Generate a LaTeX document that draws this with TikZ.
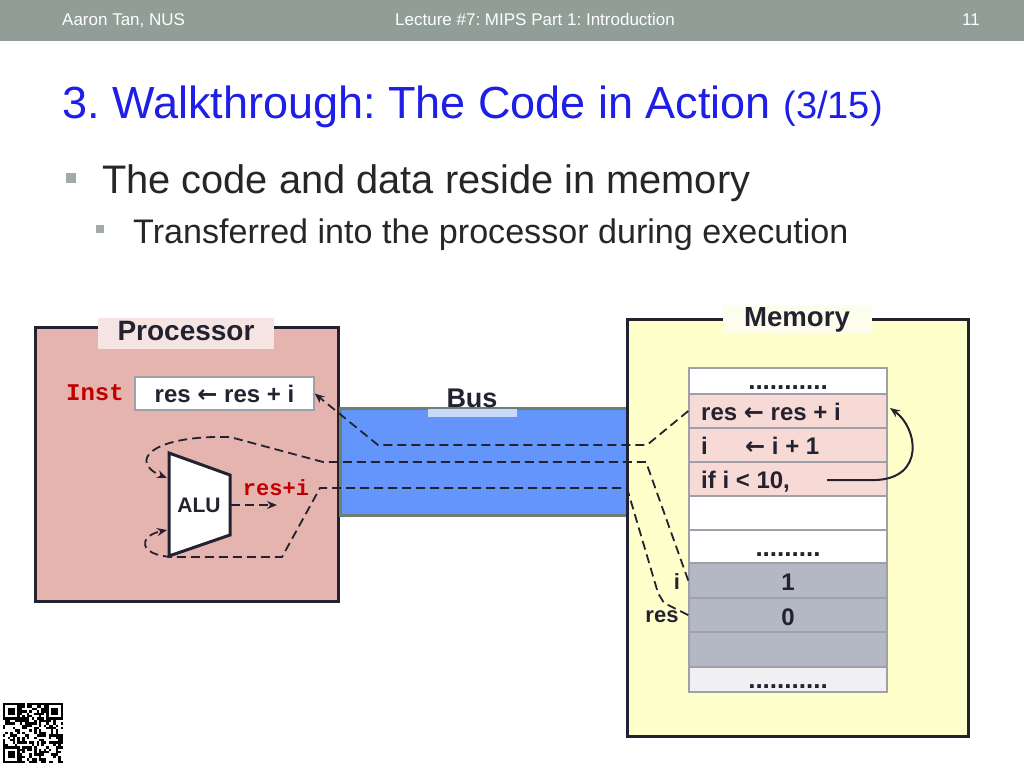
\documentclass[tikz,border=0pt]{standalone}
\usepackage{fontspec}
\setmainfont{Liberation Sans}
\newfontfamily\monofont{Liberation Mono}
\newfontfamily\arrowfont{DejaVu Sans}
\usetikzlibrary{arrows.meta}
\frenchspacing
\newcommand{\myfs}[1]{\fontsize{#1}{#1}\selectfont}
\newcommand{\larr}{{\arrowfont\bfseries ←}}
\definecolor{hdr}{HTML}{909E97}
\definecolor{ttl}{HTML}{1E1EE6}
\definecolor{bodytxt}{HTML}{262626}
\definecolor{bul}{HTML}{A2AAA6}
\definecolor{procfill}{HTML}{E6B4AE}
\definecolor{proclab}{HTML}{F6E4E2}
\definecolor{memfill}{HTML}{FFFFCC}
\definecolor{memlab}{HTML}{FDFDEE}
\definecolor{busfill}{HTML}{6495FA}
\definecolor{busline}{HTML}{6E7E72}
\definecolor{buslab}{HTML}{C8DAF8}
\definecolor{pinkcell}{HTML}{F7D9D5}
\definecolor{graycell}{HTML}{B3B8C4}
\definecolor{lightcell}{HTML}{F0F0F2}
\definecolor{cellline}{HTML}{A0A0AA}
\definecolor{dark}{HTML}{222230}
\definecolor{redtxt}{HTML}{C00000}
\tikzset{
  bigbox/.style={draw=dark, line width=3pt, inner sep=0pt},
  cellbox/.style={draw=cellline, line width=1.5pt, minimum width=198pt, inner sep=0pt},
  celltxt/.style={anchor=base west, inner sep=0pt, text=dark, font=\bfseries\myfs{24}},
  dsh/.style={draw=dark, line width=1.8pt, dash pattern=on 9pt off 5pt},
  tip/.style={-{Stealth[length=10pt,width=8pt]}},
  redmono/.style={text=redtxt, font=\monofont\bfseries\myfs{22}, inner sep=0pt},
  hdrtxt/.style={text=white, font=\myfs{17}, inner sep=0pt, anchor=base west},
}
\begin{document}
\begin{tikzpicture}[x=1pt,y=-1pt]
\useasboundingbox (0,0) rectangle (1024,768);
\fill[white] (0,0) rectangle (1024,768);
% header
\fill[hdr] (0,0) rectangle (1024,41);
\node[hdrtxt] (h1) at (62,26) {Aaron Tan, NUS};
\node[hdrtxt] (h2) at (395,26) {Lecture \#7: MIPS Part 1: Introduction};
\node[hdrtxt] (h3) at (962,26) {11};
% title
\node[anchor=base west, inner sep=0pt, text=ttl] (title) at (62,118)
  {\myfs{45}3. Walkthrough: The Code in Action \myfs{38}(3/15)};
% bullets
\fill[bul] (66,173) rectangle (76,183);
\node[anchor=base west, inner sep=0pt, text=bodytxt, font=\myfs{39.8}] (b1) at (102,193) {The code and data reside in memory};
\fill[bul] (96,225) rectangle (104,233);
\node[anchor=base west, inner sep=0pt, text=bodytxt, font=\myfs{34.1}] (b2) at (133,243) {Transferred into the processor during execution};

% processor
\node[bigbox, fill=procfill, minimum width=303pt, minimum height=274pt] (proc) at (186.5,464) {};
\fill[proclab] (98,318) rectangle (274,349);
\node[text=dark, font=\bfseries\myfs{28}, inner sep=0pt] (proclabel) at (186,331) {Processor};
\node[redmono, font=\monofont\bfseries\myfs{24}] (instlab) at (95,393) {Inst};
\node[draw=cellline, line width=1.2pt, fill=white, minimum width=179pt, minimum height=33pt, inner sep=0pt, text=dark, font=\bfseries\myfs{24}] (inst) at (224.5,393.5) {res \larr{} res + i};
% ALU
\draw[line width=3pt, draw=dark, fill=white, line join=miter] (169,453) -- (230,475) -- (230,535) -- (169,556) -- cycle;
\node[text=dark, font=\bfseries\myfs{21}, inner sep=0pt] (alu) at (199,505) {ALU};
\coordinate (aluA) at (167,478);
\coordinate (aluB) at (167,530);
\coordinate (aluout) at (231,505);
\coordinate (aluend) at (277,505);
\node[redmono] (resi) at (276,488) {res+i};

% bus
\node[draw=busline, line width=3pt, fill=busfill, minimum width=287pt, minimum height=107pt, inner sep=0pt] (bus) at (483.5,461.5) {};
\fill[buslab] (428,409) rectangle (517,417);
\node[text=dark, font=\bfseries\myfs{27}, inner sep=0pt] (buslabel) at (472,398) {Bus};

% memory
\node[bigbox, fill=memfill, minimum width=341pt, minimum height=417pt] (mem) at (797.5,527.5) {};
\fill[memlab] (723,305) rectangle (872,333);
\node[text=dark, font=\bfseries\myfs{27.6}, inner sep=0pt] (memlabel) at (797,320) {Memory};

\node[cellbox, fill=white, minimum height=26pt] (r0) at (788,381) {};
\node[cellbox, fill=pinkcell, minimum height=34pt] (r1) at (788,411) {};
\node[cellbox, fill=pinkcell, minimum height=34pt] (r2) at (788,445) {};
\node[cellbox, fill=pinkcell, minimum height=34pt] (r3) at (788,479) {};
\node[cellbox, fill=white, minimum height=34pt] (r4) at (788,513) {};
\node[cellbox, fill=white, minimum height=33pt] (r5) at (788,546.5) {};
\node[cellbox, fill=graycell, minimum height=35pt] (r6) at (788,580.5) {};
\node[cellbox, fill=graycell, minimum height=34pt] (r7) at (788,615) {};
\node[cellbox, fill=graycell, minimum height=35pt] (r8) at (788,649.5) {};
\node[cellbox, fill=lightcell, minimum height=25pt] (r9) at (788,679.5) {};

\node[anchor=base, inner sep=0pt, text=dark, font=\bfseries\myfs{26}] (d0) at (788,389) {...........};
\node[celltxt] (t1) at (701,420) {res \larr{} res + i};
\node[celltxt] (t2a) at (701,454) {i};
\node[celltxt] (t2b) at (745,454) {\larr{} i + 1};
\node[celltxt] (t3) at (701,488) {if i < 10,};
\node[anchor=base, inner sep=0pt, text=dark, font=\bfseries\myfs{26}] (d5) at (788,556) {.........};
\node[celltxt, anchor=center] (t6) at (788,582) {1};
\node[celltxt, anchor=center] (t7) at (788,617) {0};
\node[anchor=base, inner sep=0pt, text=dark, font=\bfseries\myfs{26}] (d9) at (788,688) {...........};
\node[text=dark, font=\bfseries\myfs{22}, inner sep=0pt] (ilab) at (677,582) {i};
\node[text=dark, font=\bfseries\myfs{22}, inner sep=0pt] (reslab) at (662,617) {res};

% loop arrow
\coordinate (loopstart) at (827,480);
\coordinate (loopend) at (890,408);
\draw[dark, line width=2pt, tip] (loopstart) -- (876,480) .. controls (925,478) and (918,428) .. (loopend);

% dashed connectors
\draw[dsh, tip] (r1.west) -- (647,445) -- (378,445) -- (inst.east);
\draw[dsh, tip] (r6.west) -- (646,462) -- (323,462) -- (230,437) .. controls (150,435) and (128,462) .. (aluA);
\draw[dsh, tip] (r7.west) -- (664,603) -- (658,593) -- (627,488) -- (320,488) -- (282,557) -- (172,557) .. controls (138,555) and (138,536) .. (aluB);
\draw[dsh, tip] (aluout) -- (aluend);

% QR code
\pgfmathsetseed{11}
\begin{scope}[shift={(3,703)}]
  \foreach \i in {0,...,24}{
    \foreach \j in {0,...,24}{
      \pgfmathsetmacro\rr{int(rnd*2)}
      \ifnum\rr=1 \fill[black] (\i*2.4,\j*2.4) rectangle ++(2.45,2.45); \fi
    }
  }
  \foreach \ox/\oy in {0/0,18/0,0/18}{
    \fill[white] (\ox*2.4-0.1,\oy*2.4-0.1) rectangle ++(7*2.4+0.2,7*2.4+0.2);
    \fill[black] (\ox*2.4,\oy*2.4) rectangle ++(7*2.4,7*2.4);
    \fill[white] (\ox*2.4+2.4,\oy*2.4+2.4) rectangle ++(5*2.4,5*2.4);
    \fill[black] (\ox*2.4+4.8,\oy*2.4+4.8) rectangle ++(3*2.4,3*2.4);
  }
\end{scope}
\end{tikzpicture}
\end{document}
